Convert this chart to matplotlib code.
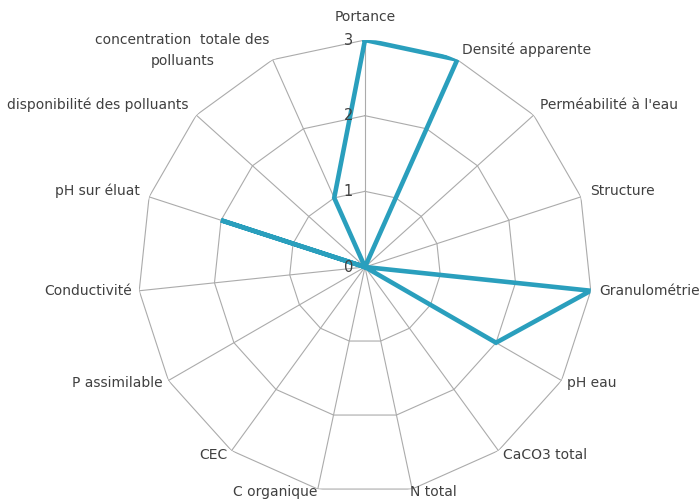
import numpy as np
import matplotlib
matplotlib.use("Agg")
import matplotlib.pyplot as plt

# criteria around the radar, clockwise from the top
labels = ["Portance", "Densité apparente", "Perméabilité à l'eau", "Structure",
          "Granulométrie", "pH eau", "CaCO3 total", "N total", "C organique",
          "CEC", "P assimilable", "Conductivité", "pH sur éluat",
          "disponibilité des polluants", "concentration  totale des\npolluants"]
values = [3, 3, 0, 0, 3, 2, 0, 0, 0, 0, 0, 0, 2, 0, 1]
levels = [1, 2, 3]

# label offsets (pixels) from the outer vertex
offsets = [(0, 23, "center"), (5, 10, "left"), (6, 10, "left"), (9, 6, "left"),
           (9, 0, "left"), (5, -2, "left"), (5, -4, "left"), (-2, -3, "left"),
           (0, -3, "right"), (-4, -4, "right"), (-6, -2, "right"), (-7, 0, "right"),
           (-9, 6, "right"), (-8, 10, "right"), (-3, 9, "right")]

n = len(labels)
angles = np.arange(n) * 2 * np.pi / n
closed = np.append(angles, angles[0])

fig = plt.figure(figsize=(6.99, 5.04), dpi=100)
ax = fig.add_axes([0.1974, 0.0198, 0.6495, 0.9008], polar=True)
ax.set_theta_offset(np.pi / 2)
ax.set_theta_direction(-1)
ax.set_ylim(0, 3)
ax.grid(False)
ax.spines["polar"].set_visible(False)
ax.set_xticks([])
ax.set_yticks([])

grid_col = "#ababab"
for lv in levels:
    ax.plot(closed, [lv] * (n + 1), color=grid_col, lw=0.8, zorder=1)
for a in angles:
    ax.plot([a, a], [0, 3], color=grid_col, lw=0.8, zorder=1)

ax.plot(closed, values + [values[0]], color="#2a9fbd", lw=3.3, zorder=3,
        solid_joinstyle="miter")

txt_col = "#404040"
for lab, a, (dx, dy, ha) in zip(labels, angles, offsets):
    ax.annotate(lab, xy=(a, 3), xytext=(dx, dy), textcoords="offset pixels",
                ha=ha, va="center", fontsize=10, color=txt_col,
                multialignment="center", linespacing=1.7,
                annotation_clip=False)

for lv in [0, 1, 2, 3]:
    ax.annotate(str(lv), xy=(0, lv), xytext=(-12, 0), textcoords="offset pixels",
                ha="right", va="center", fontsize=10.5, color=txt_col)

fig.savefig("out.png", dpi=100)
